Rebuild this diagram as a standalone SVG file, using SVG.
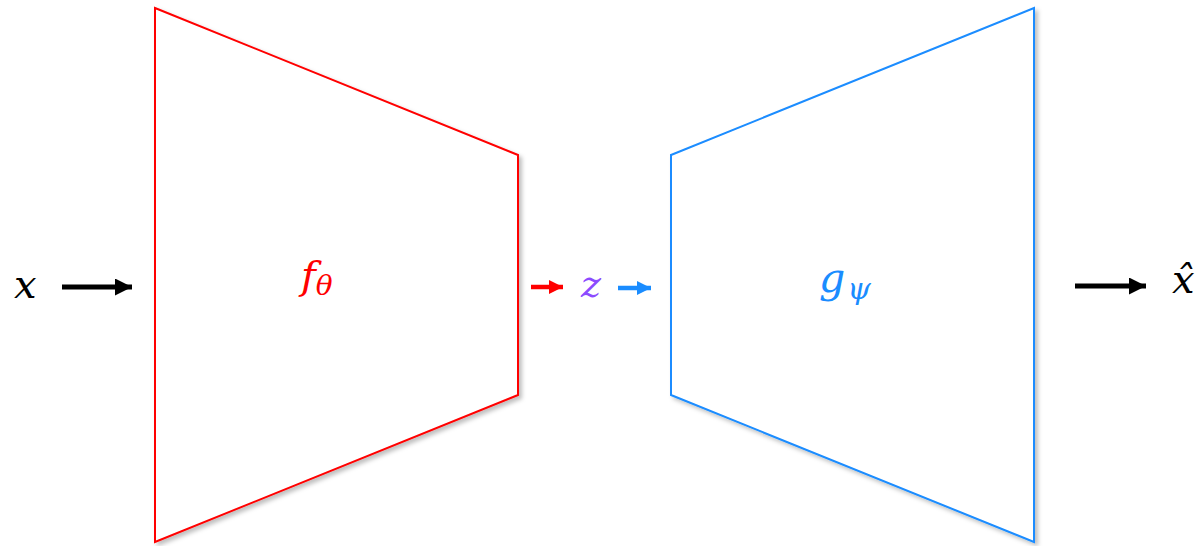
<svg xmlns="http://www.w3.org/2000/svg" width="1200" height="546" viewBox="0 0 1200 546">
<defs>
<filter id="sh" x="-10%" y="-10%" width="120%" height="120%"><feDropShadow dx="3" dy="3" stdDeviation="2" flood-color="#000" flood-opacity="0.25"/></filter>
<marker id="ak" markerWidth="3.4" markerHeight="3.4" refX="3.4" refY="1.7" orient="auto" markerUnits="strokeWidth"><path d="M0,0 L3.4,1.7 L0,3.4 Z" fill="#000"/></marker>
<marker id="ar" markerWidth="3.2" markerHeight="3.2" refX="3.2" refY="1.6" orient="auto" markerUnits="strokeWidth"><path d="M0,0 L3.2,1.6 L0,3.2 Z" fill="#FF0000"/></marker>
<marker id="ab" markerWidth="3.2" markerHeight="3.2" refX="3.2" refY="1.6" orient="auto" markerUnits="strokeWidth"><path d="M0,0 L3.2,1.6 L0,3.2 Z" fill="#1A8CFF"/></marker>
</defs>
<style>
.m{font-family:"DejaVu Serif","Liberation Serif",serif;font-style:italic;}
.shape{fill:#fff;stroke-width:2;filter:url(#sh);}
</style>
<g id="encoder">
<polygon class="shape" points="155,8 518,155 518,395 155,542" stroke="#FF0000"/>
<text class="m" x="301" y="289" font-size="40" fill="#FF0000">f<tspan font-size="28" dy="6">θ</tspan></text>
</g>
<g id="decoder">
<polygon class="shape" points="671,155 1034,8 1034,542 671,395" stroke="#1A8CFF"/>
<text class="m" x="819" y="292" font-size="41" fill="#1A8CFF">g<tspan font-size="30" dy="7" dx="2">ψ</tspan></text>
</g>
<g id="input"><text class="m" x="14" y="298" font-size="40" fill="#000">x</text></g>
<g id="latent"><text class="m" x="581" y="297" font-size="38" fill="#8C4BFF">z</text></g>
<g id="output"><text class="m" x="1172" y="293" font-size="40" fill="#000">x̂</text></g>
<g id="connectors">
<line x1="62" y1="287" x2="132" y2="287" stroke="#000" stroke-width="5" marker-end="url(#ak)"/>
<line x1="531" y1="287" x2="563" y2="287" stroke="#FF0000" stroke-width="4.5" marker-end="url(#ar)"/>
<line x1="618" y1="288" x2="651" y2="288" stroke="#1A8CFF" stroke-width="4.5" marker-end="url(#ab)"/>
<line x1="1075" y1="286" x2="1146" y2="286" stroke="#000" stroke-width="5" marker-end="url(#ak)"/>
</g>
</svg>
